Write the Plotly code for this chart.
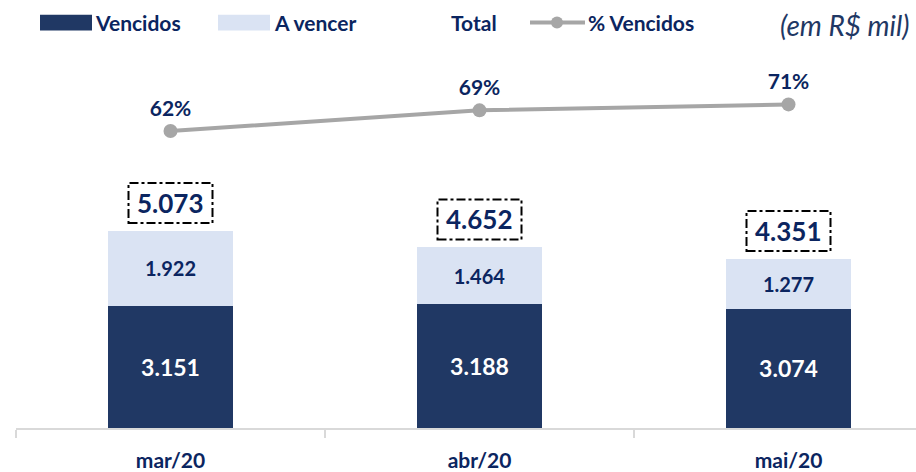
import plotly.graph_objects as go

categories = ["mar/20", "abr/20", "mai/20"]
vencidos = [3151, 3188, 3074]
a_vencer = [1922, 1464, 1277]
totals = [5073, 4652, 4351]
pct_vencidos = [0.62, 0.69, 0.71]

NAVY = "#203864"
LIGHT = "#dae3f3"
TXT = "#0b2560"
GREY = "#a6a6a6"
FONT = "Lato"

W, H = 916, 472
ML, MR, MT, MB = 16, 0, 62, 39
PH = H - MT - MB
PW = W - ML - MR
BOTTOM = H - MB

def px_x(px):
    return (px - ML) / PW

def px_y(py):
    return 1 - (py - MT) / PH

# axis scales (pixels per unit)
Y1_SCALE = 0.03935          # px per R$ mil
Y2_SCALE = 300.0            # px per 100%
Y2_REF_VAL, Y2_REF_PX = 0.71, BOTTOM - 328
y2_lo = Y2_REF_VAL - (BOTTOM - Y2_REF_PX) / Y2_SCALE
y2_hi = Y2_REF_VAL + (Y2_REF_PX - MT) / Y2_SCALE

fig = go.Figure()
fig.add_trace(go.Bar(
    x=categories, y=vencidos, name="Vencidos", marker_color=NAVY,
    marker_line_width=0, width=0.405,
    texttemplate="%{y:,.0f}", textposition="inside", insidetextanchor="middle",
    textfont=dict(color="white", size=23, family=FONT, weight="bold"),
    showlegend=False,
))
fig.add_trace(go.Bar(
    x=categories, y=a_vencer, name="A vencer", marker_color=LIGHT,
    marker_line_width=0, width=0.405,
    texttemplate="%{y:,.0f}", textposition="inside", insidetextanchor="middle",
    textfont=dict(color=TXT, size=20, family=FONT, weight="bold"),
    showlegend=False,
))
fig.add_trace(go.Scatter(
    x=categories, y=pct_vencidos, name="% Vencidos", yaxis="y2",
    mode="lines+markers+text", line=dict(color=GREY, width=4),
    marker=dict(color=GREY, size=14),
    texttemplate="%{y:.0%}", textposition="top center",
    textfont=dict(color=TXT, size=21, family=FONT, weight="bold"),
    showlegend=False, cliponaxis=False,
))

# totals with dash-dot boxes
for i, (c, t) in enumerate(zip(categories, totals)):
    fig.add_annotation(x=c, y=t, text=f"{t:,.0f}".replace(",", "."), showarrow=False,
                       yanchor="middle", yshift=28,
                       font=dict(color=TXT, size=26, family=FONT, weight="bold"))
    fig.add_shape(type="rect", xref="x", yref="y",
                  xsizemode="pixel", xanchor=i, x0=-42, x1=42,
                  ysizemode="pixel", yanchor=t, y0=8, y1=48,
                  line=dict(color="black", width=2, dash="dashdot"))

# manual legend
leg_y = 22
def leg_rect(x0, x1, color):
    fig.add_shape(type="rect", xref="paper", yref="paper",
                  x0=px_x(x0), x1=px_x(x1), y0=px_y(leg_y + 8), y1=px_y(leg_y - 8),
                  fillcolor=color, line_width=0)

def leg_text(x, text):
    fig.add_annotation(xref="paper", yref="paper", x=px_x(x), y=px_y(leg_y),
                       xanchor="left", yanchor="middle", text=text, showarrow=False,
                       font=dict(color=TXT, size=21, family=FONT, weight="bold"))

leg_rect(40, 92, NAVY)
leg_text(93, "Vencidos")
leg_rect(218, 270, LIGHT)
leg_text(272, "A vencer")
leg_text(449, "Total")
fig.add_shape(type="line", xref="paper", yref="paper",
              x0=px_x(530), x1=px_x(585), y0=px_y(leg_y), y1=px_y(leg_y),
              line=dict(color=GREY, width=4))
fig.add_shape(type="circle", xref="paper", yref="paper",
              x0=px_x(551), x1=px_x(563), y0=px_y(leg_y + 6), y1=px_y(leg_y - 6),
              fillcolor=GREY, line_width=0)
leg_text(586, "% Vencidos")
fig.add_annotation(xref="paper", yref="paper", x=px_x(912), y=px_y(25),
                   xanchor="right", yanchor="middle", text="<i>(em R$ mil)</i>",
                   showarrow=False,
                   font=dict(color="#1f3864", size=28, family=FONT))

fig.update_layout(
    width=W, height=H, margin=dict(l=ML, r=MR, t=MT, b=MB),
    paper_bgcolor="white", plot_bgcolor="white",
    barmode="stack", separators=",.", showlegend=False,
    xaxis=dict(type="category", range=[-0.5, -0.5 + PW / 309],
               showline=True, linecolor="#d9d9d9", linewidth=2,
               ticks="outside", tickson="boundaries", ticklen=8, tickcolor="#d9d9d9",
               tickwidth=2, ticklabelstandoff=13,
               tickfont=dict(color=TXT, size=21, family=FONT, weight="bold"),
               showgrid=False, zeroline=False, fixedrange=True),
    yaxis=dict(range=[0, PH / Y1_SCALE], visible=False, showgrid=False, zeroline=False),
    yaxis2=dict(overlaying="y", range=[y2_lo, y2_hi], visible=False,
                showgrid=False, zeroline=False),
)

fig.write_html("out.html", config={"displayModeBar": False},
               post_script="document.body.style.margin='0';document.body.style.padding='0';")
